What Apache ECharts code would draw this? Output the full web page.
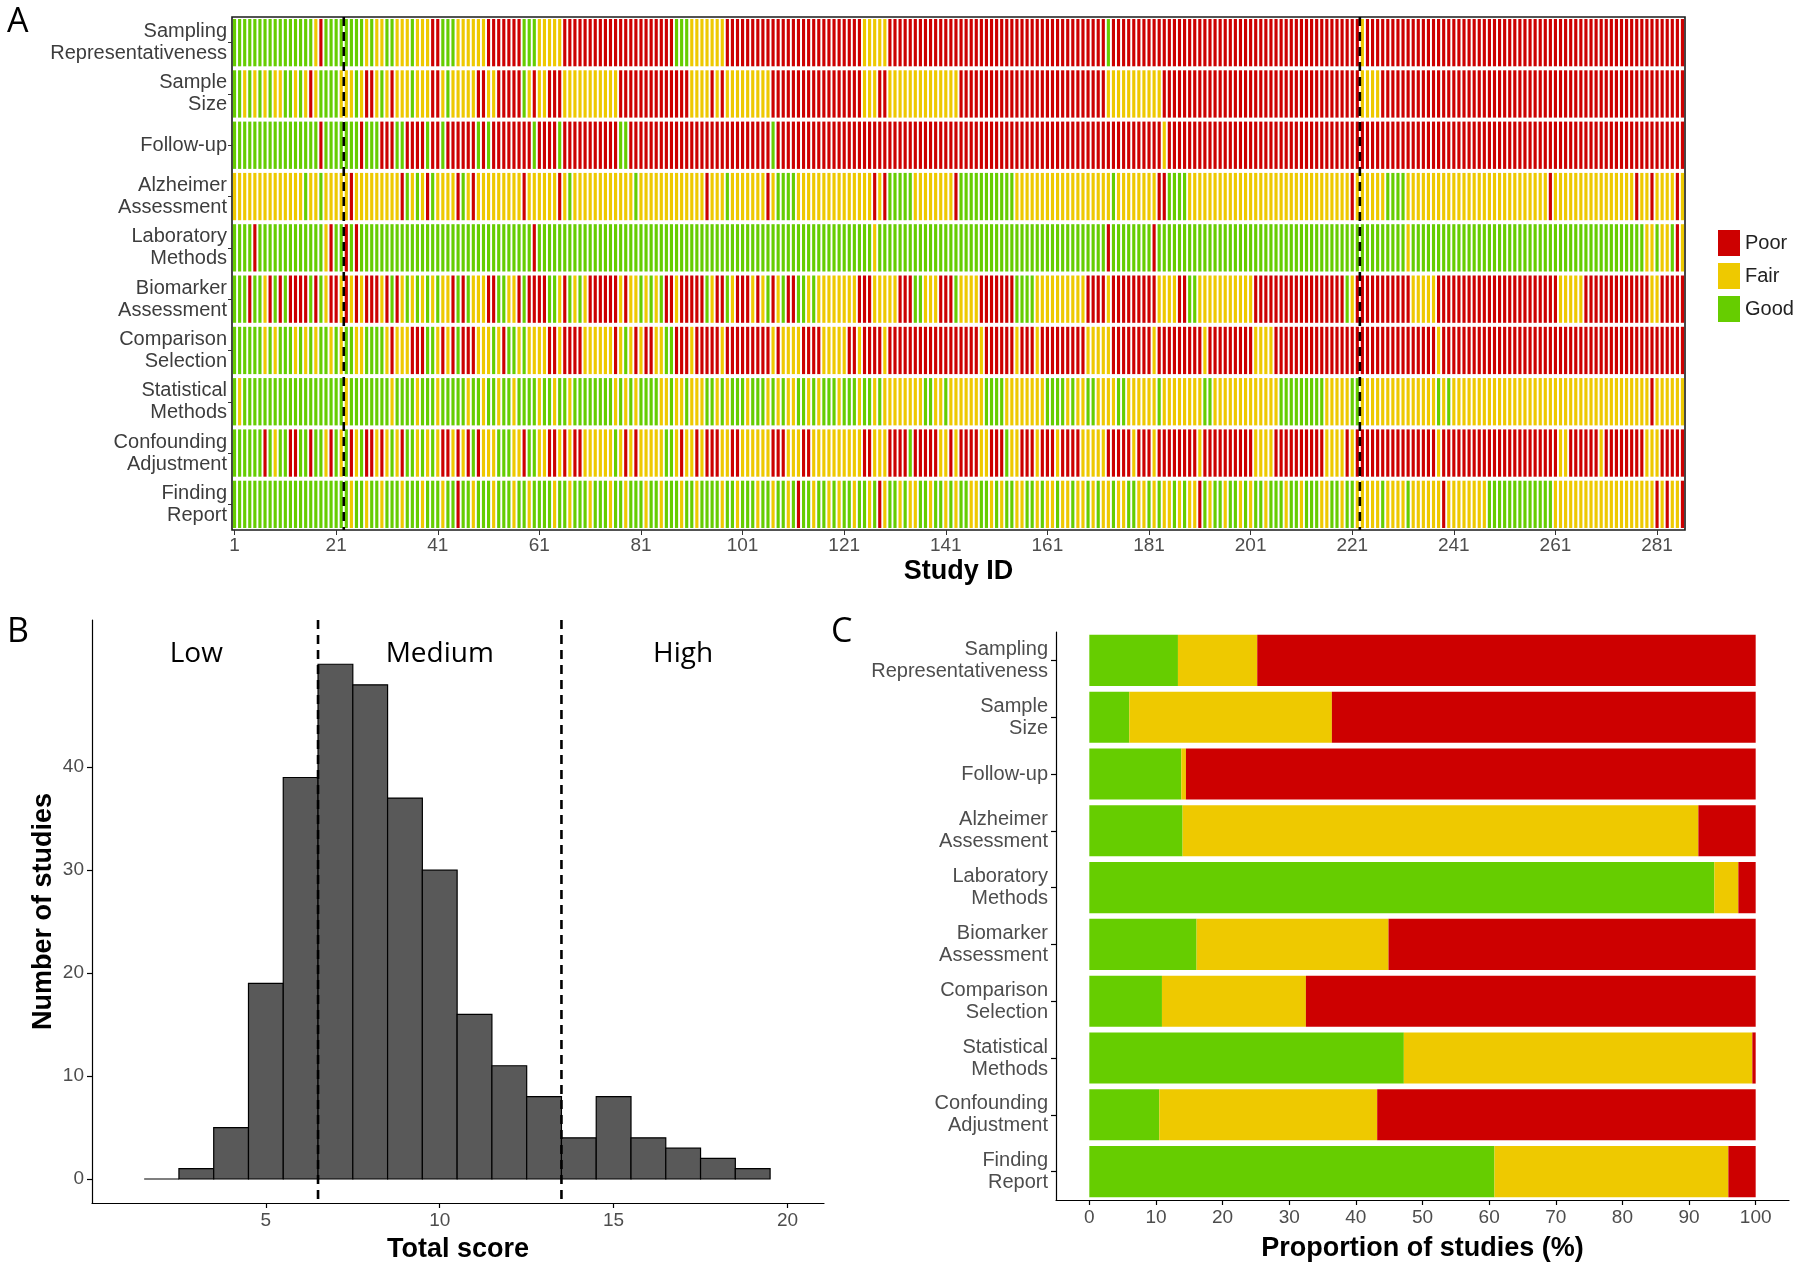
<!DOCTYPE html>
<html><head><meta charset="utf-8">
<script src="https://cdn.jsdelivr.net/npm/echarts@6/dist/echarts.min.js"></script>
<style>html,body{margin:0;padding:0;background:#fff}#c{width:1800px;height:1272px}</style>
</head><body><div id="c"></div>
<script>
// ---------- data ----------
const domainLabels = ['Sampling\nRepresentativeness','Sample\nSize','Follow-up','Alzheimer\nAssessment','Laboratory\nMethods','Biomarker\nAssessment','Comparison\nSelection','Statistical\nMethods','Confounding\nAdjustment','Finding\nReport'];
const ratingNames = ['Poor','Fair','Good'];
const ratingColors = ['#CD0000','#EEC900','#66CD00'];
// Panel A: rating of each study (1..286) per domain, run-length coded (G good, F fair, P poor)
const ratingSampling = 'G16 F P G4 G4 F G F2 G2 F3 G F3 P2 G3 F6 P7 G3 F5 P4 P18 G3 F4 F3 P22 P5 F5 P15 P25 P3 G P21 P25 P3 F P21 P42';
const ratingSampleSize = 'G2 F G F G F G F2 G2 F G F P F G G3 F3 G F P2 F G F P F3 G F3 P2 F G F F4 P2 F2 P5 G F P F2 P3 F4 F7 P14 F4 P F P F9 P13 P5 F3 P2 F14 P P25 P3 F11 P11 P25 P3 F4 P18 P42';
const ratingFollowUp = 'G17 P G7 P G3 P3 G2 P4 G P2 G P2 P4 G P G P8 G P4 G P4 P7 G2 P16 P12 G P12 P50 P14 F P10 P92';
const ratingAlzheimer = 'F14 G F2 G F5 P F9 P G F G F P G F4 P G F P F9 P F6 P F G F2 F10 G F13 P F3 G F7 P F G4 F8 F7 P F P G5 F8 P G G10 F15 F4 G F8 P2 G4 F6 F25 F P F6 G4 F13 F15 P F16 P F2 P F4 P F';
const ratingLaboratory = 'G4 P G13 F P G2 P G P G19 G15 P G9 G57 F G45 P G8 P G49 F G46 F F G F F G P F';
const ratingBiomarker = 'G3 P G2 F P G P G P4 G P G F P2 F P F P F P3 F P G P F G F G F G F G F2 P G P G F3 P2 G2 F2 P G P4 G2 F P G F G F P6 F P F2 G F G F G P2 F P5 G F P2 G F P3 F P F G P F G P2 G2 F G F4 F4 P3 F5 P3 G2 F3 P3 G F F3 P7 G4 F10 P P3 F P9 F4 P2 G2 F4 F7 P18 G F P11 F5 P7 P17 F5 P13 F2 P5';
const ratingComparison = 'G6 F G F G3 F G F G F G G F G F G2 F2 G4 F P F3 P3 G2 F P F P G P3 F3 G F P G2 F G F4 P2 F P4 F6 P F G F P F P2 F2 G2 P3 F P3 P2 F P9 F P F4 P4 F3 F2 P2 F P4 F P15 P3 F P6 F P3 F P9 F F4 P8 F P9 F P2 P7 F4 P14 P18 F P6 P42';
const ratingStatistical = 'G F G16 G4 F G8 F G4 F G3 F G3 G2 F G2 F G2 F G2 F G4 F G2 F G2 F G2 G6 F G F G F G4 F2 G F2 G F3 G G F G F G3 F G3 F G F G F2 G2 F G F G3 F G3 F G2 F G F8 G2 F2 G F3 F4 G4 F8 G4 F G F2 G G F4 G2 F6 G F8 G2 F F12 G9 F4 F G2 F15 G F G F4 F35 P F6';
const ratingConfounding = 'G6 P G F G2 P2 G2 P G2 F P G F G P F G P2 F P F G F P G2 F G F G F P2 F P F P G P F3 G3 F2 P G2 F2 P2 F P F P2 F6 G F P F P F5 G2 F P F2 P F P P2 F2 P2 F6 P3 F3 P2 F5 F5 P2 F3 P4 G P5 F2 P F P P3 F2 P3 G F2 P3 F P3 F P4 F2 F3 P5 F P3 F P8 F P3 P7 F4 P10 F4 P F P16 F P6 P17 F2 P6 F P8 F3 P5';
const ratingFinding = 'G22 G F G2 F G2 F G3 F G3 F G3 F G2 P G2 F G3 F G3 F G2 F G4 F G2 F G2 G F G3 F G2 F G3 F G2 F G3 F G2 F G2 G2 F G2 F G3 F G2 F G2 F G P G2 F G2 F G F G2 F G2 F G P F G2 F G F2 G2 F G2 F G F G2 F2 G2 F G F G2 F2 G2 F G F2 G F2 G F2 G F G F2 G F2 G2 F2 G F G F2 G F G F2 P G F G2 F G2 F G F G2 F G3 F G2 F G3 F2 G2 F G2 F5 G F4 G F6 P F8 G13 F20 P F P F2 P';
const groupBreaks = [22, 222];          // last study of the High and Medium groups
const xTickLabels = [1, 21, 41, 61, 81, 101, 121, 141, 161, 181, 201, 221, 241, 261, 281];

// Panel B: histogram of total score
const histScores = [2, 3, 4, 5, 6, 7, 8, 9, 10, 11, 12, 13, 14, 15, 16, 17, 18, 19];
const histCounts = [0, 1, 5, 19, 39, 50, 48, 37, 30, 16, 11, 8, 4, 8, 4, 3, 2, 1];
const cutScores = [6.5, 13.5];
const zoneNames = ['Low', 'Medium', 'High'];
const zoneCenters = [3, 10, 17];
const zoneLabelY = 51;
const bTicksX = [5, 10, 15, 20];
const bTicksY = [0, 10, 20, 30, 40];

// Panel C: proportion of studies (%)
const propGood = [13.3, 6.0, 13.8, 14.0, 93.8, 16.1, 10.9, 47.2, 10.5, 60.8];
const propFair = [11.9, 30.4, 0.7, 77.4, 3.6, 28.8, 21.6, 52.3, 32.7, 35.1];
const propPoor = [74.8, 63.6, 85.5, 8.6, 2.6, 55.1, 67.5, 0.5, 56.8, 4.1];
const cTicks = [0, 10, 20, 30, 40, 50, 60, 70, 80, 90, 100];

// ---------- build ----------
function decode(rle) {
  let s = '';
  rle.trim().split(/\s+/).forEach(t => { s += t[0].repeat(t.length > 1 ? parseInt(t.slice(1), 10) : 1); });
  return s;
}
const ratingRows = [ratingSampling, ratingSampleSize, ratingFollowUp, ratingAlzheimer, ratingLaboratory,
  ratingBiomarker, ratingComparison, ratingStatistical, ratingConfounding, ratingFinding].map(decode);
const nStudies = ratingRows[0].length;
const studyIds = [];
for (let i = 1; i <= nStudies; i++) studyIds.push(String(i));
const codeIndex = { P: 0, F: 1, G: 2 };
const cellData = [[], [], []];
ratingRows.forEach((row, d) => {
  for (let i = 0; i < row.length; i++) cellData[codeIndex[row[i]]].push([i, d]);
});

const FONT = '"Liberation Sans", Arial, sans-serif';
const FONT2 = '"Open Sans", "Noto Sans", sans-serif';
const tickFn = (idx) => xTickLabels.indexOf(idx + 1) >= 0;

function cellRender(params, api) {
  const c = api.coord([api.value(0), api.value(1)]);
  const s = api.size([1, 1]);
  const w = s[0] * 0.62, h = s[1] - 4;
  return { type: 'rect', shape: { x: c[0] - w / 2, y: c[1] - h / 2, width: w, height: h },
    style: { fill: api.visual('color') } };
}
function vDash(params, api, xv) {
  const cs = params.coordSys;
  return { type: 'line', shape: { x1: xv, y1: cs.y, x2: xv, y2: cs.y + cs.height },
    style: { stroke: '#000', lineWidth: 2.6, lineDash: [9, 6] } };
}

const series = [];
ratingNames.forEach((name, k) => {
  series.push({ name, type: 'custom', xAxisIndex: 0, yAxisIndex: 0, data: cellData[k],
    itemStyle: { color: ratingColors[k] }, renderItem: cellRender, silent: true });
});
series.push({ type: 'custom', xAxisIndex: 0, yAxisIndex: 0, silent: true, z: 5,
  data: groupBreaks.map(b => [b, 0]),
  renderItem: (p, api) => {
    const b = api.value(0);
    const x = (api.coord([b - 1, 0])[0] + api.coord([b, 0])[0]) / 2;
    return vDash(p, api, x);
  } });
// B
series.push({ type: 'custom', xAxisIndex: 1, yAxisIndex: 1, silent: true,
  data: histScores.map((s, i) => [s, histCounts[i]]),
  renderItem: (p, api) => {
    const x = api.value(0), n = api.value(1);
    const a = api.coord([x - 0.5, n]), b = api.coord([x + 0.5, 0]);
    return { type: 'rect', shape: { x: a[0], y: a[1], width: b[0] - a[0], height: b[1] - a[1] },
      style: { fill: '#595959', stroke: '#000', lineWidth: 1.2 } };
  } });
series.push({ type: 'custom', xAxisIndex: 1, yAxisIndex: 1, silent: true, z: 5,
  data: cutScores.map(v => [v, 0]),
  renderItem: (p, api) => vDash(p, api, api.coord([api.value(0), 0])[0]) });
series.push({ type: 'custom', xAxisIndex: 1, yAxisIndex: 1, silent: true, z: 6,
  data: zoneCenters.map(v => [v, zoneLabelY]),
  renderItem: (p, api) => {
    const c = api.coord([api.value(0), api.value(1)]);
    return { type: 'text', x: c[0], y: c[1],
      style: { text: zoneNames[p.dataIndex], fontSize: 28, fontFamily: FONT2, fill: '#000',
        align: 'center', verticalAlign: 'middle', textAlign: 'center', textVerticalAlign: 'middle' } };
  } });
// C
[[propGood, 2], [propFair, 1], [propPoor, 0]].forEach(([vals, k]) => {
  series.push({ name: ratingNames[k], type: 'bar', stack: 'c', xAxisIndex: 2, yAxisIndex: 2,
    data: vals, barWidth: '90%', itemStyle: { color: ratingColors[k] }, silent: true });
});

const grayLab = { color: '#4d4d4d', fontSize: 19, fontFamily: FONT };
const boldName = { color: '#000', fontSize: 27, fontWeight: 'bold', fontFamily: FONT };
const blackLine = { show: true, onZero: false, lineStyle: { color: '#000', width: 1.2 } };
const blackTick = { show: true, length: 5, lineStyle: { color: '#000', width: 1.2 } };
const catLab = { color: '#3d3d3d', fontSize: 20, fontFamily: FONT, lineHeight: 22, align: 'right' };

const option = {
  animation: false,
  backgroundColor: '#fff',
  textStyle: { fontFamily: FONT },
  legend: { orient: 'vertical', left: 1713, top: 225, itemWidth: 22, itemHeight: 26, itemGap: 7,
    icon: 'rect', data: ratingNames, selectedMode: false,
    textStyle: { fontSize: 20, color: '#222', fontFamily: FONT } },
  grid: [
    { left: 232, top: 17, width: 1453, height: 513, show: true, borderColor: '#1a1a1a', borderWidth: 1.6, backgroundColor: 'transparent' },
    { left: 92, top: 620, width: 732, height: 583 },
    { left: 1056, top: 632, width: 733, height: 568 }
  ],
  xAxis: [
    { gridIndex: 0, type: 'category', data: studyIds, boundaryGap: true,
      axisLine: { show: false },
      axisTick: { show: true, interval: tickFn, alignWithLabel: true, length: 5, lineStyle: { color: '#333' } },
      axisLabel: Object.assign({ interval: tickFn, margin: 6 }, grayLab),
      splitLine: { show: false },
      name: 'Study ID', nameLocation: 'middle', nameGap: 28, nameTextStyle: boldName },
    { gridIndex: 1, type: 'value', min: 0, max: 21.05,
      axisLine: blackLine,
      axisTick: Object.assign({ customValues: bTicksX }, blackTick),
      axisLabel: Object.assign({ customValues: bTicksX, margin: 8 }, grayLab),
      splitLine: { show: false },
      name: 'Total score', nameLocation: 'middle', nameGap: 33, nameTextStyle: boldName },
    { gridIndex: 2, type: 'value', min: -5, max: 105,
      axisLine: blackLine,
      axisTick: Object.assign({ customValues: cTicks }, blackTick),
      axisLabel: Object.assign({ customValues: cTicks, margin: 8 }, grayLab),
      splitLine: { show: false },
      name: 'Proportion of studies (%)', nameLocation: 'middle', nameGap: 35, nameTextStyle: boldName }
  ],
  yAxis: [
    { gridIndex: 0, type: 'category', data: domainLabels, inverse: true,
      axisLine: { show: false },
      axisTick: { show: true, alignWithLabel: true, length: 4, lineStyle: { color: '#333' } },
      axisLabel: Object.assign({ margin: 5 }, catLab),
      splitLine: { show: false } },
    { gridIndex: 1, type: 'value', min: -2.33, max: 54.3,
      axisLine: blackLine,
      axisTick: Object.assign({ customValues: bTicksY }, blackTick),
      axisLabel: Object.assign({ customValues: bTicksY, margin: 8 }, grayLab),
      splitLine: { show: false },
      name: 'Number of studies', nameLocation: 'middle', nameRotate: 90, nameGap: 35, nameTextStyle: boldName },
    { gridIndex: 2, type: 'category', data: domainLabels, inverse: true,
      axisLine: blackLine,
      axisTick: Object.assign({ alignWithLabel: true }, blackTick),
      axisLabel: Object.assign({ margin: 8 }, catLab, { color: '#4d4d4d' }),
      splitLine: { show: false } }
  ],
  graphic: [
    { type: 'text', left: 7, top: 5, style: { text: 'A', fontSize: 34, fontFamily: FONT2, fill: '#000' } },
    { type: 'text', left: 7, top: 615, style: { text: 'B', fontSize: 34, fontFamily: FONT2, fill: '#000' } },
    { type: 'text', left: 831, top: 615, style: { text: 'C', fontSize: 34, fontFamily: FONT2, fill: '#000' } }
  ],
  series
};
const chart = echarts.init(document.getElementById('c'), null, { renderer: 'canvas' });
chart.setOption(option);
</script>
</body></html>
